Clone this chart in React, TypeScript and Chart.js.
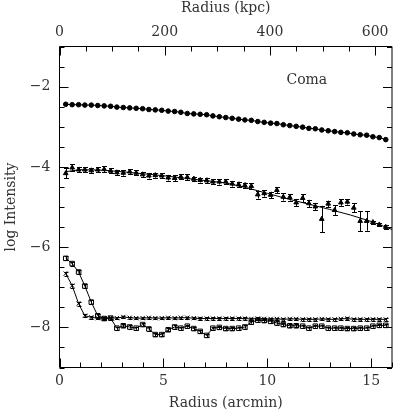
import React, { useEffect, useRef } from "react";
import { Chart, registerables } from "chart.js";

Chart.register(...registerables);

// ---------- data ----------
const radii = [
  0.30, 0.61, 0.92, 1.22, 1.53, 1.84, 2.15, 2.46, 2.76, 3.07,
  3.38, 3.69, 4.00, 4.30, 4.61, 4.92, 5.23, 5.54, 5.84, 6.15,
  6.46, 6.77, 7.08, 7.38, 7.69, 8.00, 8.31, 8.62, 8.92, 9.23,
  9.54, 9.85, 10.16, 10.46, 10.77, 11.08, 11.39, 11.70, 12.00, 12.31,
  12.62, 12.93, 13.24, 13.54, 13.85, 14.16, 14.47, 14.78, 15.08, 15.39,
  15.70,
];

const circleVals = [
  -2.44, -2.45, -2.45, -2.46, -2.46, -2.47, -2.48, -2.49, -2.51, -2.52,
  -2.53, -2.54, -2.55, -2.57, -2.58, -2.59, -2.61, -2.62, -2.64, -2.67,
  -2.68, -2.69, -2.70, -2.73, -2.75, -2.77, -2.79, -2.81, -2.83, -2.84,
  -2.87, -2.89, -2.91, -2.92, -2.95, -2.97, -2.99, -3.01, -3.04, -3.05,
  -3.08, -3.10, -3.12, -3.14, -3.15, -3.18, -3.20, -3.21, -3.25, -3.27,
  -3.32,
];

const triangleVals = [
  -4.16, -4.02, -4.07, -4.07, -4.09, -4.07, -4.06, -4.10, -4.14, -4.15,
  -4.12, -4.15, -4.19, -4.22, -4.21, -4.22, -4.27, -4.28, -4.25, -4.26,
  -4.30, -4.33, -4.34, -4.37, -4.37, -4.37, -4.42, -4.44, -4.46, -4.48,
  -4.69, -4.66, -4.70, -4.58, -4.75, -4.76, -4.89, -4.78, -4.91, -4.99,
  -5.30, -4.92, -5.08, -4.89, -4.87, -5.02, -5.35, -5.35, -5.38, -5.44,
  -5.50,
];
const triangleErr = [
  0.12, 0.08, 0.06, 0.06, 0.06, 0.06, 0.07, 0.06, 0.06, 0.07,
  0.06, 0.06, 0.06, 0.07, 0.06, 0.06, 0.07, 0.07, 0.06, 0.07,
  0.06, 0.06, 0.07, 0.06, 0.07, 0.06, 0.07, 0.07, 0.07, 0.07,
  0.10, 0.08, 0.08, 0.08, 0.09, 0.08, 0.09, 0.10, 0.09, 0.09,
  0.33, 0.08, 0.12, 0.08, 0.07, 0.11, 0.25, 0.24, 0.04, 0.04,
  0.04,
];

const modelRadii = [0.3, 1, 2, 3, 4, 5, 6, 7, 8, 9, 10, 11, 12, 13, 14, 15, 16];
const modelVals = [
  -4.12, -4.07, -4.08, -4.12, -4.17, -4.22, -4.28, -4.34, -4.40, -4.52,
  -4.66, -4.80, -4.93, -5.06, -5.20, -5.36, -5.56,
];

const squareVals = [
  -6.28, -6.41, -6.62, -6.97, -7.37, -7.71, -7.78, -7.77, -8.02, -7.96,
  -7.99, -8.02, -7.93, -8.04, -8.18, -8.18, -8.06, -7.99, -8.02, -7.97,
  -8.03, -8.10, -8.20, -8.02, -8.00, -8.03, -8.03, -8.02, -7.99, -7.87,
  -7.82, -7.83, -7.85, -7.89, -7.93, -7.96, -7.96, -7.97, -8.02, -7.97,
  -7.97, -8.02, -8.02, -8.02, -8.03, -8.03, -8.02, -8.02, -7.97, -7.95,
  -7.95,
];
const squareErr = [
  0.05, 0.05, 0.05, 0.05, 0.05, 0.05, 0.04, 0.04, 0.04, 0.04,
  0.04, 0.04, 0.04, 0.04, 0.04, 0.04, 0.04, 0.04, 0.04, 0.04,
  0.04, 0.04, 0.04, 0.04, 0.04, 0.04, 0.04, 0.04, 0.04, 0.04,
  0.04, 0.04, 0.04, 0.04, 0.04, 0.04, 0.04, 0.04, 0.04, 0.04,
  0.04, 0.04, 0.04, 0.04, 0.04, 0.04, 0.04, 0.04, 0.04, 0.04,
  0.04,
];

const crossVals = [
  -6.66, -6.96, -7.41, -7.71, -7.75, -7.77, -7.77, -7.76, -7.77, -7.74,
  -7.76, -7.77, -7.77, -7.76, -7.77, -7.77, -7.76, -7.77, -7.76, -7.76,
  -7.77, -7.78, -7.78, -7.78, -7.78, -7.78, -7.78, -7.78, -7.78, -7.79,
  -7.78, -7.79, -7.79, -7.79, -7.80, -7.79, -7.79, -7.80, -7.80, -7.80,
  -7.79, -7.80, -7.80, -7.79, -7.78, -7.80, -7.80, -7.80, -7.80, -7.80,
  -7.80,
];
const crossErr = [
  0.05, 0.05, 0.05, 0.04, 0.03, 0.03, 0.03, 0.03, 0.03, 0.03,
  0.03, 0.03, 0.03, 0.03, 0.03, 0.03, 0.03, 0.03, 0.03, 0.03,
  0.03, 0.03, 0.03, 0.03, 0.03, 0.03, 0.03, 0.03, 0.03, 0.03,
  0.03, 0.03, 0.03, 0.03, 0.03, 0.03, 0.03, 0.03, 0.03, 0.03,
  0.03, 0.03, 0.03, 0.03, 0.03, 0.03, 0.03, 0.03, 0.03, 0.03,
  0.03,
];

const arcminTicks = [0, 5, 10, 15];
const kpcTicks = [0, 200, 400, 600];
const logTicks = [-2, -4, -6, -8];
const ARCMIN_MAX = 16;
const KPC_MAX = 632;
const Y_MIN = -9;
const Y_MAX = -1;
const clusterName = "Coma";

// ---------- styling ----------
const FONT_FAMILY = "'DejaVu Serif', serif";
const TEXT = "#333";
const INK = "#000";
const font = { family: FONT_FAMILY, size: 14 };

const pts = (xs: number[], ys: number[]) => xs.map((x, i) => ({ x, y: ys[i] }));

const framePlugin = {
  id: "frameTicks",
  afterDatasetsDraw(chart: any) {
    const { ctx, chartArea: a, scales } = chart;
    ctx.save();
    ctx.beginPath();
    ctx.rect(a.left, a.top, a.right - a.left, a.bottom - a.top);
    ctx.clip();
    ctx.strokeStyle = INK;
    ctx.lineWidth = 1;
    chart.data.datasets.forEach((ds: any, di: number) => {
      if (!ds.errors) return;
      const meta = chart.getDatasetMeta(di);
      const cap = ds.capHalf ?? 2;
      meta.data.forEach((el: any, j: number) => {
        const v = ds.data[j].y;
        const e = ds.errors[j];
        const x = Math.round(el.x) + 0.5;
        const y1 = scales.y.getPixelForValue(v + e);
        const y2 = scales.y.getPixelForValue(v - e);
        ctx.beginPath();
        ctx.moveTo(x, y1);
        ctx.lineTo(x, y2);
        ctx.moveTo(x - cap, Math.round(y1) + 0.5);
        ctx.lineTo(x + cap, Math.round(y1) + 0.5);
        ctx.moveTo(x - cap, Math.round(y2) + 0.5);
        ctx.lineTo(x + cap, Math.round(y2) + 0.5);
        ctx.stroke();
      });
    });
    ctx.restore();
  },
  afterDraw(chart: any) {
    const { ctx, chartArea: a, scales } = chart;
    ctx.save();
    ctx.strokeStyle = INK;
    ctx.lineWidth = 1;
    ctx.beginPath();
    ctx.rect(a.left, a.top, a.right - a.left, a.bottom - a.top);
    ctx.stroke();
    const line = (x1: number, y1: number, x2: number, y2: number) => {
      ctx.beginPath();
      ctx.moveTo(x1, y1);
      ctx.lineTo(x2, y2);
      ctx.stroke();
    };
    const MAJ = 9;
    const MIN = 5;
    for (let v = 0; v <= ARCMIN_MAX; v += 1) {
      const px = Math.round(scales.x.getPixelForValue(v)) + 0.5;
      const len = v % 5 === 0 ? MAJ : MIN;
      line(px, a.bottom, px, a.bottom - len);
    }
    for (let v = 0; v <= KPC_MAX; v += 50) {
      const px = Math.round(scales.x2.getPixelForValue(v)) + 0.5;
      const len = v % 200 === 0 ? MAJ : MIN;
      line(px, a.top, px, a.top + len);
    }
    for (let v = Y_MIN; v <= Y_MAX; v += 0.5) {
      const py = Math.round(scales.y.getPixelForValue(v)) + 0.5;
      const len = v % 2 === 0 ? MAJ : MIN;
      line(a.left, py, a.left + len, py);
      line(a.right, py, a.right - len, py);
    }
    ctx.fillStyle = TEXT;
    ctx.font = `14px ${FONT_FAMILY}`;
    ctx.textAlign = "center";
    ctx.textBaseline = "middle";
    ctx.fillText(clusterName, scales.x.getPixelForValue(11.9), scales.y.getPixelForValue(-1.85));
    ctx.restore();
  },
};

export default function App() {
  const ref = useRef<HTMLCanvasElement>(null);

  useEffect(() => {
    if (!ref.current) return;
    const common = { xAxisID: "x", yAxisID: "y", borderColor: INK, borderWidth: 1 };
    const chart = new Chart(ref.current, {
      type: "line",
      data: {
        datasets: [
          {
            ...common,
            label: "model",
            data: pts(modelRadii, modelVals),
            pointRadius: 0,
            tension: 0,
          },
          {
            ...common,
            label: "circles",
            data: pts(radii, circleVals),
            showLine: true,
            pointStyle: "circle",
            pointRadius: 2.3,
            pointBackgroundColor: INK,
            pointBorderColor: INK,
          },
          {
            ...common,
            label: "triangles",
            data: pts(radii, triangleVals),
            showLine: false,
            pointStyle: "triangle",
            pointRadius: 2.7,
            pointBackgroundColor: INK,
            pointBorderColor: INK,
            errors: triangleErr,
            capHalf: 2.5,
          },
          {
            ...common,
            label: "squares",
            data: pts(radii, squareVals),
            showLine: true,
            pointStyle: "rect",
            pointRadius: 3.2,
            pointBackgroundColor: "rgba(0,0,0,0)",
            pointBorderColor: INK,
            pointBorderWidth: 1,
            errors: squareErr,
            capHalf: 2,
          },
          {
            ...common,
            label: "crosses",
            data: pts(radii, crossVals),
            showLine: true,
            pointStyle: "crossRot",
            pointRadius: 3,
            pointBorderColor: INK,
            pointBorderWidth: 1,
            errors: crossErr,
            capHalf: 2,
          },
        ] as any,
      },
      options: {
        animation: false,
        responsive: false,
        devicePixelRatio: 1,
        layout: { padding: 0 },
        plugins: { legend: { display: false }, tooltip: { enabled: false } },
        scales: {
          x: {
            type: "linear",
            position: "bottom",
            min: 0,
            max: ARCMIN_MAX,
            grid: { display: false, drawTicks: false },
            border: { display: false },
            ticks: { font, color: TEXT, padding: 5.5, maxRotation: 0 },
            afterBuildTicks: (s: any) => {
              s.ticks = arcminTicks.map((value) => ({ value }));
            },
            afterFit: (s: any) => {
              s.height = 44.5;
            },
            title: { display: true, text: "Radius (arcmin)", font, color: TEXT, padding: { top: 0, bottom: 0.5 } },
          },
          x2: {
            type: "linear",
            position: "top",
            min: 0,
            max: KPC_MAX,
            grid: { display: false, drawTicks: false },
            border: { display: false },
            ticks: { font, color: TEXT, padding: 5.5, maxRotation: 0 },
            afterBuildTicks: (s: any) => {
              s.ticks = kpcTicks.map((value) => ({ value }));
            },
            afterFit: (s: any) => {
              s.height = 46.5;
            },
            title: { display: true, text: "Radius (kpc)", font, color: TEXT, padding: { top: 0, bottom: 0 } },
          },
          y: {
            type: "linear",
            position: "left",
            min: Y_MIN,
            max: Y_MAX,
            grid: { display: false, drawTicks: false },
            border: { display: false },
            ticks: {
              font,
              color: TEXT,
              padding: 9,
              callback: (v: any) => (v < 0 ? "\u2212" + Math.abs(v) : String(v)),
            },
            afterBuildTicks: (s: any) => {
              s.ticks = logTicks.map((value) => ({ value }));
            },
            afterFit: (s: any) => {
              s.width = 59.5;
            },
            title: { display: true, text: "log Intensity", font, color: TEXT, padding: { top: 3, bottom: 0 } },
          },
          y2: {
            type: "linear",
            position: "right",
            min: Y_MIN,
            max: Y_MAX,
            grid: { display: false, drawTicks: false },
            border: { display: false },
            ticks: { display: false },
            afterFit: (s: any) => {
              s.width = 0.5;
            },
          },
        },
      } as any,
      plugins: [framePlugin],
    });
    return () => chart.destroy();
  }, []);

  return (
    <div style={{ position: "absolute", left: 0, top: 0, width: 397, height: 412, background: "#fff" }}>
      <canvas ref={ref} width={397} height={412} style={{ width: 397, height: 412, display: "block" }} />
    </div>
  );
}
